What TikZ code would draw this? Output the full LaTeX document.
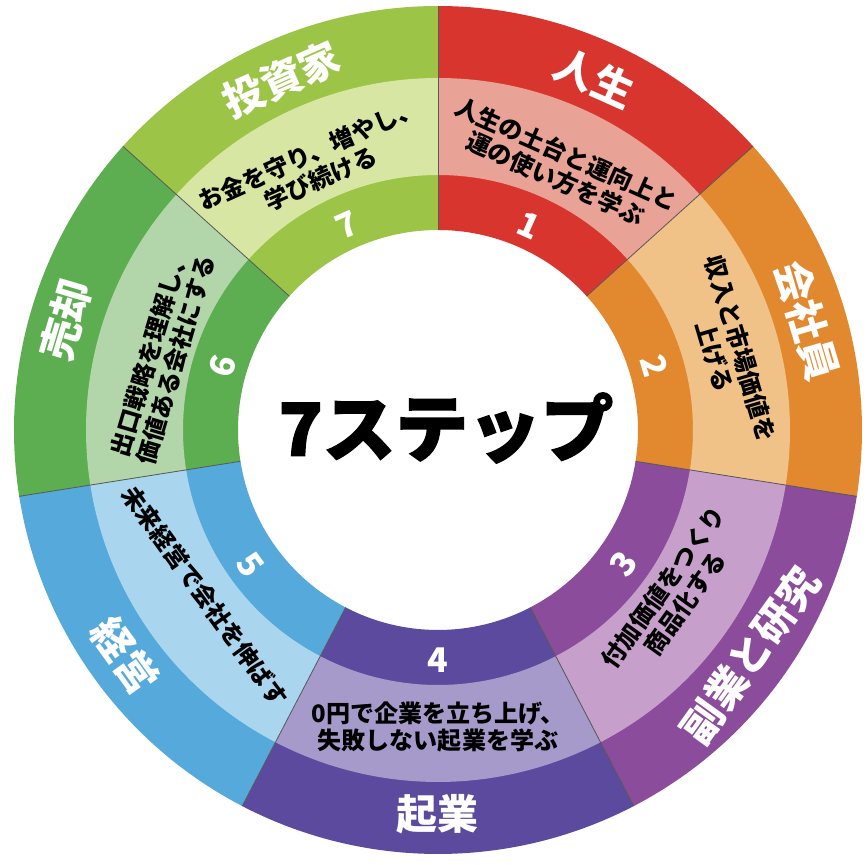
\documentclass[tikz,border=0pt]{standalone}
\usepackage{fontspec}
\setmainfont{Noto Sans CJK JP}
\definecolor{jin}{HTML}{D8352E}
\definecolor{jinl}{HTML}{E8A396}
\definecolor{kai}{HTML}{E2892F}
\definecolor{kail}{HTML}{F0C287}
\definecolor{fuku}{HTML}{8A4C9B}
\definecolor{fukul}{HTML}{C69FCB}
\definecolor{kig}{HTML}{5B4A9E}
\definecolor{kigl}{HTML}{A59AC9}
\definecolor{kei}{HTML}{55A9DB}
\definecolor{keil}{HTML}{A9D6EE}
\definecolor{bai}{HTML}{5DAE50}
\definecolor{bail}{HTML}{B2D5AA}
\definecolor{toshi}{HTML}{9CC447}
\definecolor{toshil}{HTML}{D7E6A2}

\begin{document}
\begin{tikzpicture}[x=0.03cm,y=0.03cm,
    title/.style={text=white, inner sep=0pt, font=\fontsize{35}{40}\selectfont\bfseries},
    desc/.style={text=black, inner sep=0pt, align=center, font=\fontsize{20.5}{23}\selectfont\bfseries},
    num/.style={text=white, inner sep=0pt, font=\fontsize{29}{30}\selectfont\bfseries},
    sep/.style={draw=black!65, line width=0.7pt}]
    \useasboundingbox (-438,-434) rectangle (429,430);

    \fill[jin] (90:200) arc[start angle=90, end angle=42, radius=200] -- (42:424) arc[start angle=42, end angle=90, radius=424] -- cycle;
    \fill[jinl] (90:255) arc[start angle=90, end angle=42, radius=255] -- (42:352) arc[start angle=42, end angle=90, radius=352] -- cycle;
    \fill[kai] (42:200) arc[start angle=42, end angle=-9, radius=200] -- (-9:424) arc[start angle=-9, end angle=42, radius=424] -- cycle;
    \fill[kail] (42:255) arc[start angle=42, end angle=-9, radius=255] -- (-9:352) arc[start angle=-9, end angle=42, radius=352] -- cycle;
    \fill[fuku] (-9:200) arc[start angle=-9, end angle=-62.5, radius=200] -- (-62.5:424) arc[start angle=-62.5, end angle=-9, radius=424] -- cycle;
    \fill[fukul] (-9:255) arc[start angle=-9, end angle=-62.5, radius=255] -- (-62.5:352) arc[start angle=-62.5, end angle=-9, radius=352] -- cycle;
    \fill[kig] (-62.5:200) arc[start angle=-62.5, end angle=-117.5, radius=200] -- (-117.5:424) arc[start angle=-117.5, end angle=-62.5, radius=424] -- cycle;
    \fill[kigl] (-62.5:255) arc[start angle=-62.5, end angle=-117.5, radius=255] -- (-117.5:352) arc[start angle=-117.5, end angle=-62.5, radius=352] -- cycle;
    \fill[kei] (-117.5:200) arc[start angle=-117.5, end angle=-171, radius=200] -- (-171:424) arc[start angle=-171, end angle=-117.5, radius=424] -- cycle;
    \fill[keil] (-117.5:255) arc[start angle=-117.5, end angle=-171, radius=255] -- (-171:352) arc[start angle=-171, end angle=-117.5, radius=352] -- cycle;
    \fill[bai] (-171:200) arc[start angle=-171, end angle=-222, radius=200] -- (-222:424) arc[start angle=-222, end angle=-171, radius=424] -- cycle;
    \fill[bail] (-171:255) arc[start angle=-171, end angle=-222, radius=255] -- (-222:352) arc[start angle=-222, end angle=-171, radius=352] -- cycle;
    \fill[toshi] (-222:200) arc[start angle=-222, end angle=-270, radius=200] -- (-270:424) arc[start angle=-270, end angle=-222, radius=424] -- cycle;
    \fill[toshil] (-222:255) arc[start angle=-222, end angle=-270, radius=255] -- (-270:352) arc[start angle=-270, end angle=-222, radius=352] -- cycle;

    \draw[sep] (90:200) -- (90:424);
    \draw[sep] (42:200) -- (42:424);
    \draw[sep] (-9:200) -- (-9:424);
    \draw[sep] (-62.5:200) -- (-62.5:424);
    \draw[sep] (-117.5:200) -- (-117.5:424);
    \draw[sep] (-171:200) -- (-171:424);
    \draw[sep] (138:200) -- (138:424);

    \node[title, rotate=-24] (t1) at (66:385) {人生};
    \node[title, rotate=-73.5] (t2) at (16.5:385) {会社員};
    \node[title, rotate=54.25] (t3) at (-35.75:385) {副業と研究};
    \node[title] (t4) at (-90:384) {起業};
    \node[title, rotate=-54.25] (t5) at (-144.25:386) {経営};
    \node[title, rotate=73.5] (t6) at (163.5:388) {売却};
    \node[title, rotate=24] (t7) at (114:384) {投資家};

    \node[desc, rotate=-24] (d1) at (65:291) {人生の土台と運向上と\\運の使い方を学ぶ};
    \node[desc, rotate=-73.5] (d2) at (15:300) {収入と市場価値を\\上げる};
    \node[desc, rotate=54.25] (d3) at (-35:288) {付加価値をつくり\\商品化する};
    \node[desc] (d4) at (-90:297) {0円で企業を立ち上げ、\\失敗しない起業を学ぶ};
    \node[desc, rotate=-54.25] (d5) at (-144.5:286) {未来経営で会社を伸ばす};
    \node[desc, rotate=73.5] (d6) at (165:285) {出口戦略を理解し、\\価値ある会社にする};
    \node[desc, rotate=24] (d7) at (115:291) {お金を守り、増やし、\\学び続ける};

    \node[num, rotate=-24] (n1) at (66:224) {1};
    \node[num, rotate=-73.5] (n2) at (16.5:226) {2};
    \node[num, rotate=54.25] (n3) at (-35.75:229) {3};
    \node[num] (n4) at (-90:230) {4};
    \node[num, rotate=-54.25] (n5) at (-144.25:231) {5};
    \node[num, rotate=73.5] (n6) at (163.5:225) {6};
    \node[num, rotate=24] (n7) at (114:224) {7};

    \node[inner sep=0pt, font=\fontsize{62}{70}\selectfont\bfseries\addfontfeature{FakeBold=2}] (mid) at (8,2) {7ステップ};
\end{tikzpicture}
\end{document}
